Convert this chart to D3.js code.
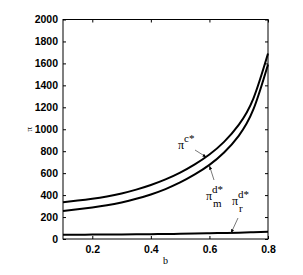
<!DOCTYPE html>
<html>
<head>
<meta charset="utf-8">
<script src="https://cdn.jsdelivr.net/npm/d3@7"></script>
<style>
  html, body { margin: 0; padding: 0; background: #fff; }
  svg { display: block; }
</style>
</head>
<body>
<div id="chart"></div>
<script>
// ── data ──────────────────────────────────────
const bValues   = [0.1, 0.15, 0.2, 0.25, 0.3, 0.35, 0.4, 0.45, 0.5, 0.55, 0.6, 0.65, 0.7, 0.75, 0.8];
const piC       = [335, 350, 367, 388, 415, 450, 492, 543, 605, 680, 770, 885, 1040, 1280, 1690];
const piMd      = [255, 270, 287, 307, 333, 366, 406, 455, 515, 588, 675, 788, 940, 1180, 1590];
const piRd      = [38, 39, 40, 41, 42, 43, 44, 46, 47, 49, 52, 55, 58, 62, 66];
const xTicks    = [0.2, 0.4, 0.6, 0.8];
const yTicks    = [0, 200, 400, 600, 800, 1000, 1200, 1400, 1600, 1800, 2000];

const W = 303, H = 275;
const m = { left: 63, right: 268, top: 19.5, bottom: 239 };

const svg = d3.select("#chart").append("svg")
  .attr("width", W).attr("height", H);

const x = d3.scaleLinear().domain([0.1, 0.8]).range([m.left, m.right]);
const y = d3.scaleLinear().domain([0, 2000]).range([m.bottom, m.top]);

// ── axes (ticks inside, box) ──────────────────
const tickFont = "'Liberation Sans', Arial, sans-serif";

svg.append("g")
  .attr("transform", `translate(0,${m.bottom})`)
  .call(d3.axisBottom(x).tickValues(xTicks).tickSize(-3).tickPadding(7).tickFormat(d3.format(".1f")))
  .call(g => g.select(".domain").remove());

svg.append("g")
  .attr("transform", `translate(0,${m.top})`)
  .call(d3.axisTop(x).tickValues(xTicks).tickSize(-3).tickFormat(""))
  .call(g => g.select(".domain").remove());

svg.append("g")
  .attr("transform", `translate(${m.left},0)`)
  .call(d3.axisLeft(y).tickValues(yTicks).tickSize(-3).tickPadding(5).tickFormat(d3.format("d")))
  .call(g => g.select(".domain").remove());

svg.append("g")
  .attr("transform", `translate(${m.right},0)`)
  .call(d3.axisRight(y).tickValues(yTicks).tickSize(-3).tickFormat(""))
  .call(g => g.select(".domain").remove());

svg.selectAll(".tick line").attr("stroke", "#000");
svg.selectAll(".tick text")
  .attr("fill", "#000")
  .attr("font-family", tickFont)
  .attr("font-weight", "700")
  .attr("font-size", "10.5px");

svg.append("rect")
  .attr("x", m.left).attr("y", m.top)
  .attr("width", m.right - m.left).attr("height", m.bottom - m.top)
  .attr("fill", "none").attr("stroke", "#000").attr("stroke-width", 1);

// ── curves ────────────────────────────────────
const line = d3.line()
  .x((d, i) => x(bValues[i]))
  .y(d => y(d))
  .curve(d3.curveNatural);

[piC, piMd, piRd].forEach(series => {
  svg.append("path")
    .attr("d", line(series))
    .attr("fill", "none")
    .attr("stroke", "#000")
    .attr("stroke-width", 2);
});

// ── axis labels ───────────────────────────────
const serif = "'Liberation Serif', 'Times New Roman', serif";

svg.append("text")
  .attr("x", x(0.45)).attr("y", 264)
  .attr("text-anchor", "middle")
  .attr("font-family", serif).attr("font-size", "10px")
  .text("b");

svg.append("text")
  .attr("transform", `translate(32,${y(1000)}) rotate(-90)`)
  .attr("text-anchor", "middle")
  .attr("font-family", serif).attr("font-size", "9px")
  .text("π");

// ── annotations ───────────────────────────────
svg.append("defs").append("marker")
  .attr("id", "arr")
  .attr("viewBox", "0 0 10 10")
  .attr("refX", 10).attr("refY", 5)
  .attr("markerWidth", 5).attr("markerHeight", 5)
  .attr("orient", "auto")
  .append("path").attr("d", "M0,1 L10,5 L0,9 Z").attr("fill", "#000");

function arrow(x1, y1, x2, y2) {
  svg.append("line")
    .attr("x1", x1).attr("y1", y1).attr("x2", x2).attr("y2", y2)
    .attr("stroke", "#555").attr("stroke-width", 0.8)
    .attr("marker-end", "url(#arr)");
}

function piLabel(px, py, sup, sub) {
  const t = svg.append("text")
    .attr("x", px).attr("y", py)
    .attr("font-family", serif).attr("font-size", "12px");
  t.append("tspan").text("π");
  t.append("tspan").attr("dy", -7).attr("font-size", "11px").text(sup);
  if (sub) {
    svg.append("text")
      .attr("x", px + 7).attr("y", py + 7)
      .attr("font-family", serif).attr("font-size", "11px")
      .text(sub);
  }
}

piLabel(178, 149, "c*");
arrow(195, 150, x(0.59), y(745));

piLabel(206, 200, "d*", "m");
arrow(214, 180, x(0.6), y(668));

piLabel(232, 205, "d*", "r");
arrow(238, 218, 231, y(53));
</script>
</body>
</html>
